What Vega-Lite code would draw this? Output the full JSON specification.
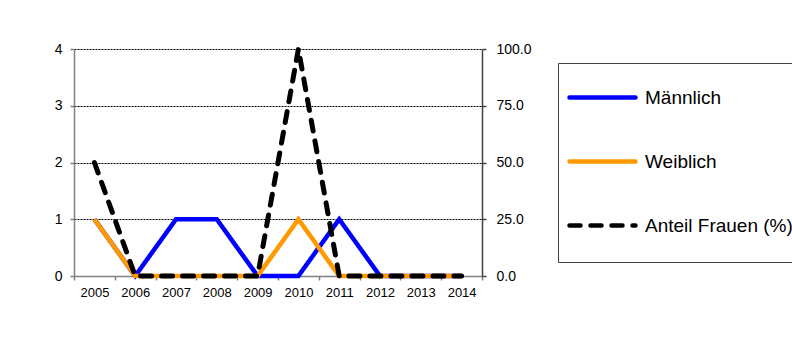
{
  "$schema": "https://vega.github.io/schema/vega-lite/v6.json",
  "width": 408,
  "height": 227,
  "autosize": "none",
  "padding": {"left": 74, "top": 49, "right": 310, "bottom": 64},
  "background": "white",
  "data": {
    "values": [
      {"Jahr": "2005", "Serie": "Männlich", "Wert": 1},
      {"Jahr": "2006", "Serie": "Männlich", "Wert": 0},
      {"Jahr": "2007", "Serie": "Männlich", "Wert": 1},
      {"Jahr": "2008", "Serie": "Männlich", "Wert": 1},
      {"Jahr": "2009", "Serie": "Männlich", "Wert": 0},
      {"Jahr": "2010", "Serie": "Männlich", "Wert": 0},
      {"Jahr": "2011", "Serie": "Männlich", "Wert": 1},
      {"Jahr": "2012", "Serie": "Männlich", "Wert": 0},
      {"Jahr": "2013", "Serie": "Männlich", "Wert": 0},
      {"Jahr": "2014", "Serie": "Männlich", "Wert": 0},
      {"Jahr": "2005", "Serie": "Weiblich", "Wert": 1},
      {"Jahr": "2006", "Serie": "Weiblich", "Wert": 0},
      {"Jahr": "2007", "Serie": "Weiblich", "Wert": 0},
      {"Jahr": "2008", "Serie": "Weiblich", "Wert": 0},
      {"Jahr": "2009", "Serie": "Weiblich", "Wert": 0},
      {"Jahr": "2010", "Serie": "Weiblich", "Wert": 1},
      {"Jahr": "2011", "Serie": "Weiblich", "Wert": 0},
      {"Jahr": "2012", "Serie": "Weiblich", "Wert": 0},
      {"Jahr": "2013", "Serie": "Weiblich", "Wert": 0},
      {"Jahr": "2014", "Serie": "Weiblich", "Wert": 0},
      {"Jahr": "2005", "Serie": "Anteil Frauen (%)", "Wert": 50},
      {"Jahr": "2006", "Serie": "Anteil Frauen (%)", "Wert": 0},
      {"Jahr": "2007", "Serie": "Anteil Frauen (%)", "Wert": 0},
      {"Jahr": "2008", "Serie": "Anteil Frauen (%)", "Wert": 0},
      {"Jahr": "2009", "Serie": "Anteil Frauen (%)", "Wert": 0},
      {"Jahr": "2010", "Serie": "Anteil Frauen (%)", "Wert": 100},
      {"Jahr": "2011", "Serie": "Anteil Frauen (%)", "Wert": 0},
      {"Jahr": "2012", "Serie": "Anteil Frauen (%)", "Wert": 0},
      {"Jahr": "2013", "Serie": "Anteil Frauen (%)", "Wert": 0},
      {"Jahr": "2014", "Serie": "Anteil Frauen (%)", "Wert": 0}
    ]
  },
  "encoding": {
    "x": {
      "field": "Jahr",
      "type": "ordinal",
      "bandPosition": 0.5,
      "scale": {"type": "band", "paddingInner": 0, "paddingOuter": 0},
      "axis": {
        "title": null,
        "labelAngle": 0,
        "tickBand": "extent",
        "labelFont": "Liberation Sans",
        "labelFontSize": 13,
        "labelColor": "black",
        "labelPadding": 6,
        "domainColor": "#808080",
        "tickColor": "#808080",
        "tickSize": 4,
        "grid": false
      }
    },
    "color": {
      "field": "Serie",
      "type": "nominal",
      "scale": {
        "domain": ["Männlich", "Weiblich", "Anteil Frauen (%)"],
        "range": ["#0000FF", "#FF9900", "#000000"]
      },
      "legend": {
        "title": " ",
        "titleOrient": "bottom",
        "titleFontSize": 10,
        "titlePadding": 7,
        "orient": "none",
        "legendX": 484,
        "legendY": 14,
        "symbolType": "M-1,0H1.87",
        "symbolSize": 2116,
        "symbolStrokeWidth": 4.5,
        "labelFont": "Liberation Sans",
        "labelFontSize": 19,
        "labelColor": "black",
        "labelLimit": 400,
        "labelOffset": 27,
        "rowPadding": 28,
        "padding": 9,
        "strokeColor": "#404040",
        "fillColor": "white",
        "encode": {"symbols": {"update": {"strokeCap": {"value": "round"}}}}
      }
    },
    "strokeDash": {
      "field": "Serie",
      "type": "nominal",
      "scale": {
        "domain": ["Männlich", "Weiblich", "Anteil Frauen (%)"],
        "range": [[1, 0], [1, 0], [11, 10]]
      },
      "legend": {
        "title": " ",
        "orient": "none",
        "legendX": 484,
        "legendY": 14
      }
    }
  },
  "layer": [
    {
      "transform": [{"filter": "datum.Serie !== 'Anteil Frauen (%)'"}],
      "mark": {"type": "line", "strokeWidth": 4.5, "strokeCap": "butt", "strokeJoin": "miter"},
      "encoding": {
        "y": {
          "field": "Wert",
          "type": "quantitative",
          "scale": {"domain": [0, 4], "nice": false},
          "axis": {
            "title": null,
            "values": [0, 1, 2, 3, 4],
            "format": "d",
            "labelFont": "Liberation Sans",
            "labelFontSize": 14,
            "labelColor": "black",
            "labelPadding": 8,
            "domainColor": "#808080",
            "tickColor": "#808080",
            "tickSize": 4,
            "grid": true,
            "gridColor": "black",
            "gridDash": [2, 1],
            "gridWidth": 1
          }
        }
      }
    },
    {
      "transform": [{"filter": "datum.Serie === 'Anteil Frauen (%)'"}],
      "mark": {"type": "line", "strokeWidth": 5, "strokeCap": "round"},
      "encoding": {
        "y": {
          "field": "Wert",
          "type": "quantitative",
          "scale": {"domain": [0, 100], "nice": false},
          "axis": {
            "title": null,
            "orient": "right",
            "values": [0, 25, 50, 75, 100],
            "format": ".1f",
            "labelFont": "Liberation Sans",
            "labelFontSize": 14,
            "labelColor": "black",
            "labelPadding": 10,
            "domainColor": "#404040",
            "tickColor": "#404040",
            "tickSize": 4,
            "grid": false
          }
        }
      }
    }
  ],
  "resolve": {"scale": {"y": "independent"}},
  "config": {
    "view": {"stroke": null},
    "axis": {"domainWidth": 1.5, "tickWidth": 1.5}
  }
}
